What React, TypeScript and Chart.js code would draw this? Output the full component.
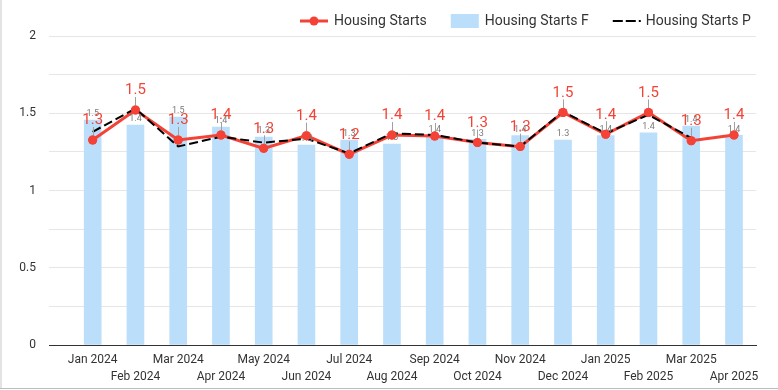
import React, { useEffect, useRef } from 'react';
import { Chart, registerables } from 'chart.js';

Chart.register(...registerables);

const months = [
  'Jan 2024', 'Feb 2024', 'Mar 2024', 'Apr 2024', 'May 2024', 'Jun 2024', 'Jul 2024', 'Aug 2024',
  'Sep 2024', 'Oct 2024', 'Nov 2024', 'Dec 2024', 'Jan 2025', 'Feb 2025', 'Mar 2025', 'Apr 2025',
];

const housingStarts = [1.327, 1.521, 1.327, 1.359, 1.273, 1.355, 1.234, 1.359, 1.353, 1.31, 1.284, 1.505, 1.364, 1.505, 1.322, 1.359];
const housingStartsF = [1.456, 1.424, 1.476, 1.411, 1.345, 1.294, 1.327, 1.3, 1.355, 1.331, 1.355, 1.327, 1.356, 1.374, 1.417, 1.357];
const housingStartsP: (number | null)[] = [1.38, 1.53, 1.285, 1.348, 1.31, 1.335, 1.24, 1.37, 1.36, 1.31, 1.285, 1.51, 1.37, 1.49, 1.34, null];

const seriesNames = ['Housing Starts', 'Housing Starts F', 'Housing Starts P'];

const RED = '#f44336';
const BLUE = '#bbdefb';
const GRID = '#e6e6e6';

const labelPlugin = {
  id: 'customLabels',
  afterDatasetsDraw(chart: any) {
    const ctx = chart.ctx;
    ctx.save();
    // bar labels
    const barMeta = chart.getDatasetMeta(1);
    ctx.font = '9px Roboto';
    ctx.fillStyle = '#7a7a7a';
    ctx.textAlign = 'center';
    ctx.textBaseline = 'middle';
    barMeta.data.forEach((el: any, i: number) => {
      const v = housingStartsF[i];
      ctx.fillText(v.toFixed(1), el.x, el.y - 6);
    });
    // red connectors
    const lineMeta = chart.getDatasetMeta(0);
    ctx.strokeStyle = '#a0a0a0';
    ctx.lineWidth = 1;
    lineMeta.data.forEach((el: any) => {
      ctx.beginPath();
      ctx.moveTo(Math.round(el.x) + 0.5, el.y);
      ctx.lineTo(Math.round(el.x) + 0.5, el.y - 13);
      ctx.stroke();
    });
    // redraw red points on top
    lineMeta.data.forEach((el: any) => {
      ctx.beginPath();
      ctx.fillStyle = RED;
      ctx.arc(el.x, el.y, 4.5, 0, Math.PI * 2);
      ctx.fill();
    });
    ctx.font = '15px Roboto';
    ctx.fillStyle = RED;
    lineMeta.data.forEach((el: any, i: number) => {
      ctx.fillText(housingStarts[i].toFixed(1), el.x, el.y - 19.5);
    });
    ctx.restore();
  },
  afterDraw(chart: any) {
    const ctx = chart.ctx;
    ctx.save();
    ctx.font = '14px Roboto';
    ctx.textBaseline = 'middle';
    ctx.textAlign = 'left';
    const y = 21;
    let x = 300;
    // item 1: red line with dot
    ctx.strokeStyle = RED;
    ctx.lineWidth = 3;
    ctx.beginPath();
    ctx.moveTo(x, y);
    ctx.lineTo(x + 28, y);
    ctx.stroke();
    ctx.fillStyle = RED;
    ctx.beginPath();
    ctx.arc(x + 14, y, 4.5, 0, Math.PI * 2);
    ctx.fill();
    ctx.fillStyle = '#333';
    ctx.fillText(seriesNames[0], x + 34, y);
    x = x + 34 + ctx.measureText(seriesNames[0]).width + 24;
    // item 2: blue box
    ctx.fillStyle = BLUE;
    ctx.fillRect(x, y - 7, 28, 14);
    ctx.fillStyle = '#333';
    ctx.fillText(seriesNames[1], x + 34, y);
    x = x + 34 + ctx.measureText(seriesNames[1]).width + 24;
    // item 3: black dashed
    ctx.strokeStyle = '#000';
    ctx.lineWidth = 2;
    ctx.setLineDash([10, 3]);
    ctx.beginPath();
    ctx.moveTo(x, y);
    ctx.lineTo(x + 28, y);
    ctx.stroke();
    ctx.setLineDash([]);
    ctx.fillStyle = '#333';
    ctx.fillText(seriesNames[2], x + 33, y);
    ctx.restore();
  },
};

export default function App() {
  const canvasRef = useRef<HTMLCanvasElement | null>(null);

  useEffect(() => {
    if (!canvasRef.current) return;
    Chart.defaults.font.family = 'Roboto';
    const chart = new Chart(canvasRef.current, {
      type: 'bar',
      data: {
        datasets: [
          {
            type: 'line',
            label: seriesNames[0],
            data: months.map((_, i) => ({ x: i, y: housingStarts[i] })),
            borderColor: RED,
            backgroundColor: RED,
            borderWidth: 3,
            pointRadius: 4.5,
            pointBorderWidth: 0,
            pointBackgroundColor: RED,
            tension: 0,
            order: 1,
          } as any,
          {
            type: 'bar',
            label: seriesNames[1],
            data: months.map((_, i) => ({ x: i, y: housingStartsF[i] })),
            backgroundColor: BLUE,
            barThickness: 17,
            order: 2,
          } as any,
          {
            type: 'line',
            label: seriesNames[2],
            data: months.map((_, i) => ({ x: i, y: housingStartsP[i] })),
            borderColor: '#000',
            borderWidth: 2,
            borderDash: [9, 4],
            pointRadius: 0,
            tension: 0,
            spanGaps: false,
            order: 0,
          } as any,
        ],
      },
      options: {
        responsive: false,
        animation: false,
        events: [],
        layout: { padding: { top: 36, right: 22, left: 0, bottom: 0 } },
        plugins: {
          legend: { display: false },
          tooltip: { enabled: false },
        },
        scales: {
          x: {
            type: 'linear',
            min: -1.022,
            max: 15.515,
            offset: false,
            grid: { display: false },
            border: { display: true, color: '#333', width: 1 },
            afterBuildTicks: (scale: any) => {
              scale.ticks = months.map((_, i) => ({ value: i }));
            },
            afterFit: (scale: any) => {
              scale.height = 45;
            },
            ticks: {
              autoSkip: false,
              maxRotation: 0,
              minRotation: 0,
              padding: -1.5,
              color: '#333',
              font: { size: 12, family: 'Roboto', lineHeight: '17px' } as any,
              callback: (value: any) => {
                const i = Math.round(Number(value));
                const l = months[i];
                if (l === undefined) return '';
                return i % 2 === 0 ? [l] : ['', l];
              },
            },
          } as any,
          y: {
            type: 'linear',
            min: 0,
            max: 2,
            grid: {
              drawTicks: false,
              color: (c: any) => (c.tick && c.tick.value === 0 ? 'rgba(0,0,0,0)' : GRID),
            },
            border: { display: false },
            afterFit: (scale: any) => {
              scale.width = 49;
            },
            ticks: {
              stepSize: 0.25,
              autoSkip: false,
              padding: 13,
              color: '#333',
              font: { size: 12, family: 'Roboto' },
              callback: (value: any) => {
                const v = Number(value);
                return Math.abs(v * 2 - Math.round(v * 2)) < 1e-9 ? String(v) : '';
              },
            },
          } as any,
        },
      },
      plugins: [labelPlugin],
    });
    return () => chart.destroy();
  }, []);

  return (
    <div style={{ position: 'fixed', left: 0, top: 0, width: 778, height: 390, background: '#fff' }}>
      <canvas ref={canvasRef} width={778} height={390} style={{ position: 'absolute', left: 0, top: 0 }} />
      <div style={{ position: 'absolute', left: 0, top: 0, width: 2, height: 389, background: '#e3e3e3' }} />
      <div style={{ position: 'absolute', left: 0, top: 388, width: 778, height: 1, background: '#bdbdbd' }} />
    </div>
  );
}
